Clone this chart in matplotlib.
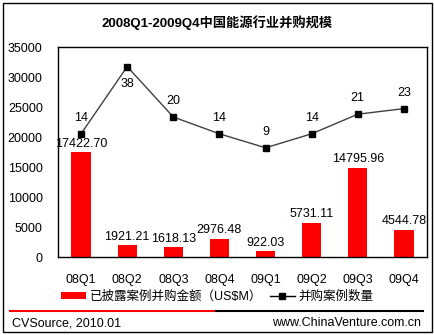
import matplotlib
matplotlib.use("Agg")
from matplotlib import pyplot as plt
from matplotlib.patches import Rectangle, Patch
from matplotlib.lines import Line2D

plt.rcParams['font.family'] = ['Liberation Sans', 'Noto Sans CJK SC', 'DejaVu Sans']

# dati
quarters = ['08Q1', '08Q2', '08Q3', '08Q4', '09Q1', '09Q2', '09Q3', '09Q4']
amounts = [17422.70, 1921.21, 1618.13, 2976.48, 922.03, 5731.11, 14795.96, 4544.78]
deals = [14, 38, 20, 14, 9, 14, 21, 23]

W, H = 435, 335
fig = plt.figure(figsize=(W / 100, H / 100), dpi=100)
fig.patch.set_facecolor('white')

# area del grafico (pixel)
left, right, top, bottom = 58, 427, 47, 257
ax = fig.add_axes([left / W, 1 - bottom / H, (right - left) / W, (bottom - top) / H])

x = list(range(len(quarters)))
ax.bar(x, amounts, width=0.42, color='#ff0000', zorder=2)
ax.set_xlim(-0.5, len(quarters) - 0.5)
ax.set_ylim(0, 35000)
ax.set_yticks(range(0, 35001, 5000))
ax.set_xticks(x)
ax.set_xticklabels(quarters)
ax.tick_params(axis='both', length=0, labelsize=9)
ax.tick_params(axis='x', pad=12)
ax.tick_params(axis='y', pad=11)
for s in ax.spines.values():
    s.set_linewidth(1)
    s.set_color('black')

for xi, v in zip(x, amounts):
    ax.annotate(f'{v:.2f}', (xi, v), xytext=(0, 2), textcoords='offset points',
                ha='center', va='bottom', fontsize=9)

# numero di casi su asse secondario nascosto
ax2 = ax.twinx()
ax2.set_ylim(-30, 45)
ax2.plot(x, deals, color='#404040', lw=1, marker='s', markersize=5,
         markerfacecolor='black', markeredgecolor='black', zorder=3)
ax2.axis('off')
for xi, n in zip(x, deals):
    off = -8 if n == 38 else 7
    ax2.annotate(str(n), (xi, n), xytext=(0, off), textcoords='offset points',
                 ha='center', va='top' if off < 0 else 'bottom', fontsize=9)

fig.text(0.5, 1 - 23 / H, '2008Q1-2009Q4中国能源行业并购规模', ha='center', va='center',
         fontsize=9.5, fontweight='bold')

handles = [Patch(facecolor='#ff0000', edgecolor='none'),
           Line2D([0], [0], color='black', lw=1, marker='s', markersize=4)]
fig.legend(handles, ['已披露案例并购金额（US$M）', '并购案例数量'], loc='center',
           bbox_to_anchor=(0.5, 1 - 297 / H), ncol=2, frameon=False, fontsize=9,
           handlelength=2.0, handleheight=0.5, columnspacing=0.6, handletextpad=0.3)

# linea separatrice e piè di pagina
fig.add_artist(Line2D([10 / W, 216 / W], [1 - 311 / H] * 2, color='#ff0000', lw=1.5))
fig.add_artist(Line2D([216 / W, 423 / W], [1 - 311 / H] * 2, color='black', lw=1.5))
fig.text(12 / W, 1 - 323 / H, 'CVSource, 2010.01', ha='left', va='center', fontsize=9)
fig.text(421 / W, 1 - 323 / H, 'www.ChinaVenture.com.cn', ha='right', va='center', fontsize=9)

fig.add_artist(Rectangle((3 / W, 3 / H), 429 / W, 329 / H, fill=False, edgecolor='black',
                         lw=1, transform=fig.transFigure))

fig.savefig('out.png', dpi=100)
